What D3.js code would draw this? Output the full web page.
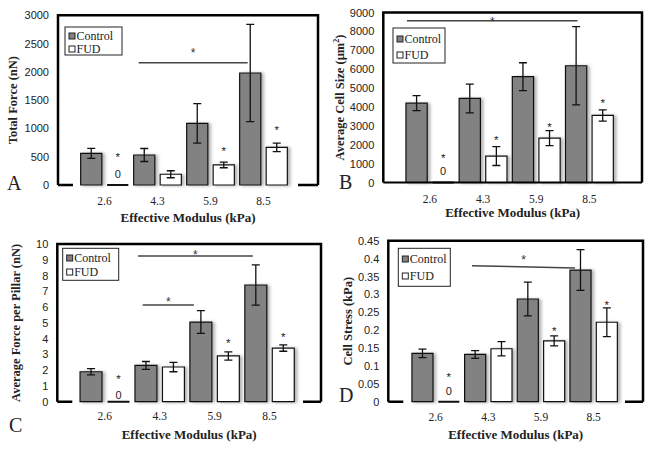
<!DOCTYPE html>
<html><head><meta charset="utf-8">
<script src="https://cdn.jsdelivr.net/npm/d3@7"></script>
<style>body{margin:0;background:#fff} svg{display:block}</style>
</head><body><svg id="c" width="649" height="451"></svg>
<script>
const categories = ["2.6", "4.3", "5.9", "8.5"];
const seriesNames = ["Control", "FUD"];

// A: Total Force (nN)
const forceControl = [560, 530, 1090, 1980];
const forceControlErr = [88, 115, 350, 860];
const forceFUD = [0, 190, 355, 665];
const forceFUDErr = [0, 62, 50, 75];
const forceTicks = [0, 500, 1000, 1500, 2000, 2500, 3000];

// B: Average Cell Size (µm²)
const sizeControl = [4200, 4450, 5600, 6180];
const sizeControlErr = [400, 760, 740, 2070];
const sizeFUD = [0, 1400, 2350, 3550];
const sizeFUDErr = [0, 500, 400, 300];
const sizeTicks = [0, 1000, 2000, 3000, 4000, 5000, 6000, 7000, 8000, 9000];

// C: Average Force per Pillar (nN)
const pillarControl = [1.9, 2.3, 5.05, 7.4];
const pillarControlErr = [0.2, 0.25, 0.72, 1.27];
const pillarFUD = [0, 2.2, 2.9, 3.4];
const pillarFUDErr = [0, 0.3, 0.26, 0.2];
const pillarTicks = [0, 1, 2, 3, 4, 5, 6, 7, 8, 9, 10];

// D: Cell Stress (kPa)
const stressControl = [0.135, 0.132, 0.287, 0.368];
const stressControlErr = [0.012, 0.011, 0.047, 0.057];
const stressFUD = [0, 0.148, 0.17, 0.222];
const stressFUDErr = [0, 0.02, 0.014, 0.04];
const stressTicks = [0, 0.05, 0.1, 0.15, 0.2, 0.25, 0.3, 0.35, 0.4, 0.45];

// significance star heights above FUD bars (value units), null = none
const forceStars = [540, null, 648, 1025];
const sizeStars = [1450, 2370, 3097, 4367];
const pillarStars = [1.62, null, 3.85, 4.27];
const stressStars = [0.077, null, 0.205, 0.278];
// "0" label heights for the zero FUD bar
const zeroLabels = [200, 590, 0.4, 0.03];

const SERIF = "'Liberation Serif','Times New Roman',serif";
const SANS = "'Liberation Sans',Arial,sans-serif";

const svg = d3.select("#c");
const defs = svg.append("defs");
const flt = defs.append("filter").attr("id", "sh").attr("x", "-30%").attr("y", "-10%").attr("width", "170%").attr("height", "130%");
flt.append("feDropShadow").attr("dx", 2.5).attr("dy", 0.5).attr("stdDeviation", 1.4)
  .attr("flood-color", "#000").attr("flood-opacity", 0.3);

function panel(c) {
  const g = svg.append("g");
  const y = d3.scaleLinear().domain([0, c.yMax]).range([c.bottom, c.top]);
  const x0 = d3.scaleBand().domain(categories).range([c.left + c.pad, c.right - c.padR]);
  const x1 = d3.scaleBand().domain(seriesNames).range([0, x0.bandwidth()]).paddingInner(0.2).paddingOuter(0.1);

  // y axis labels
  const ya = g.append("g").attr("transform", `translate(${c.left},0)`)
    .call(d3.axisLeft(y).tickValues(c.ticks).tickSize(0).tickPadding(9)
      .tickFormat(d => d === 0 ? "0" : String(+d.toFixed(2))));
  ya.select(".domain").remove();
  ya.selectAll("text").attr("font-family", SANS).attr("font-size", 11).attr("fill", "#222");

  // x axis labels
  const xa = g.append("g").attr("transform", `translate(0,${c.xTickY})`)
    .call(d3.axisBottom(x0).tickSize(0).tickPadding(0));
  xa.select(".domain").remove();
  xa.selectAll("text").attr("font-family", SERIF).attr("font-size", 11.5).attr("fill", "#222").attr("dy", "0");

  const rows = [];
  categories.forEach((cat, i) => {
    rows.push({cat, s: "Control", v: c.ctrl[i], e: c.ctrlErr[i]});
    rows.push({cat, s: "FUD", v: c.fud[i], e: c.fudErr[i]});
  });
  const bx = d => x0(d.cat) + x1(d.s);
  const bw = x1.bandwidth();

  // bars as paths (so zero bars still show as a line)
  g.append("g").selectAll("path").data(rows).join("path")
    .attr("d", d => `M${bx(d)},${y(0)}V${y(d.v)}H${bx(d) + bw}V${y(0)}Z`)
    .attr("fill", d => d.s === "Control" ? "#828282" : "#fff")
    .attr("stroke", "#111").attr("stroke-width", d => d.v === 0 ? 2 : 1.2)
    .attr("filter", d => d.v === 0 ? null : "url(#sh)");

  // error bars
  const eb = g.append("g").attr("stroke", "#111").attr("stroke-width", 1.3).attr("fill", "none");
  rows.filter(d => d.e > 0).forEach(d => {
    const cx = bx(d) + bw / 2;
    eb.append("path").attr("d",
      `M${cx},${y(d.v + d.e)}V${y(d.v - d.e)}M${cx - 4},${y(d.v + d.e)}h8M${cx - 4},${y(d.v - d.e)}h8`);
  });

  // box
  g.append("path").attr("d", `M${c.left},${c.bottom}V${c.top}H${c.right}V${c.bottom}`)
    .attr("fill", "none").attr("stroke", "#000").attr("stroke-width", 2.5);
  if (c.fullBottom) {
    g.append("line").attr("x1", c.left).attr("x2", c.right).attr("y1", c.bottom).attr("y2", c.bottom)
      .attr("stroke", "#000").attr("stroke-width", 2.2);
  } else {
    g.append("path").attr("d", `M${c.left},${c.bottom}h15M${c.right},${c.bottom}h-${c.segR}`)
      .attr("stroke", "#000").attr("stroke-width", 2.5);
  }

  // stars above FUD bars
  c.stars.forEach((sv, i) => {
    if (sv == null) return;
    const d = {cat: categories[i], s: "FUD"};
    g.append("text").attr("x", bx(d) + bw / 2).attr("y", y(sv) + 6.5)
      .attr("text-anchor", "middle").attr("font-family", SANS).attr("font-size", 11.5).attr("fill", "#222").text("*");
  });
  // zero label
  {
    const d = {cat: categories[0], s: "FUD"};
    g.append("text").attr("x", bx(d) + bw / 2).attr("y", y(c.zero) + 4)
      .attr("text-anchor", "middle").attr("font-family", SANS).attr("font-size", 11).attr("fill", "#222").text("0");
  }

  // significance lines
  c.sigs.forEach(s => {
    const xa1 = x0(s.c1) + x1("Control") + s.o1;
    const xa2 = x0(s.c2) + x1("Control") + s.o2;
    g.append("line").attr("x1", xa1).attr("x2", xa2).attr("y1", y(s.y1)).attr("y2", y(s.y2))
      .attr("stroke", "#444").attr("stroke-width", 1.5);
    g.append("text").attr("x", (xa1 + xa2) / 2).attr("y", y(s.sy) + 7)
      .attr("text-anchor", "middle").attr("font-family", SANS).attr("font-size", 12).attr("fill", "#333").text("*");
  });

  // legend
  const L = c.lg;
  g.append("rect").attr("x", L.x).attr("y", L.y).attr("width", L.w).attr("height", L.h)
    .attr("fill", "#fff").attr("stroke", "#222").attr("stroke-width", 1);
  seriesNames.forEach((s, i) => {
    g.append("rect").attr("x", L.x + 4).attr("y", L.rows[i] - 7).attr("width", 6).attr("height", 6)
      .attr("fill", s === "Control" ? "#828282" : "#fff").attr("stroke", "#222").attr("stroke-width", 1);
    g.append("text").attr("x", L.x + 11.5).attr("y", L.rows[i]).attr("font-family", SERIF)
      .attr("font-size", 12).attr("fill", "#222").text(s);
  });

  // titles
  g.append("text").attr("x", (c.left + c.right) / 2).attr("y", c.xTitleY).attr("text-anchor", "middle")
    .attr("font-family", SERIF).attr("font-weight", "bold").attr("font-size", 13).attr("fill", "#222")
    .text("Effective Modulus (kPa)");
  const yt = g.append("text").attr("transform", `translate(${c.yTitleX},${(c.top + c.bottom) / 2}) rotate(-90)`)
    .attr("text-anchor", "middle").attr("font-family", SERIF).attr("font-weight", "bold")
    .attr("font-size", 12.5).attr("fill", "#222");
  if (c.sup) {
    yt.append("tspan").text(c.yTitle);
    yt.append("tspan").attr("font-size", 8).attr("dy", -5).text(c.sup);
    yt.append("tspan").attr("dy", 5).text(")");
  } else yt.text(c.yTitle);
  g.append("text").attr("x", c.letter[1]).attr("y", c.letter[2]).attr("font-family", SERIF)
    .attr("font-size", 20).attr("fill", "#222").text(c.letter[0]);
}

panel({left: 58, right: 318, top: 15.3, bottom: 185, pad: 20, padR: 28, segR: 20, yMax: 3000, ticks: forceTicks,
  ctrl: forceControl, ctrlErr: forceControlErr, fud: forceFUD, fudErr: forceFUDErr,
  stars: forceStars, zero: zeroLabels[0], xTickY: 205, xTitleY: 222, yTitleX: 17,
  yTitle: "Total Force (nN)", letter: ["A", 7, 190],
  sigs: [{c1: "4.3", o1: 5, c2: "8.5", o2: 8, y1: 2160, y2: 2160, sy: 2385}],
  lg: {x: 65, y: 27, w: 57, h: 28, rows: [40, 53]}});

panel({left: 383.3, right: 642, top: 12.5, bottom: 182.5, pad: 20, padR: 26, yMax: 9000, ticks: sizeTicks,
  ctrl: sizeControl, ctrlErr: sizeControlErr, fud: sizeFUD, fudErr: sizeFUDErr,
  stars: sizeStars, zero: zeroLabels[1], xTickY: 203, xTitleY: 217, yTitleX: 344,
  yTitle: "Average Cell Size (µm", sup: "2", letter: ["B", 339, 189], fullBottom: true,
  sigs: [{c1: "2.6", o1: 1, c2: "8.5", o2: 12, y1: 8565, y2: 8565, sy: 8640}],
  lg: {x: 393, y: 28, w: 52, h: 35, rows: [43, 59]}});

panel({left: 57.3, right: 321, top: 244, bottom: 401.7, pad: 20, padR: 24, segR: 18, yMax: 10, ticks: pillarTicks,
  ctrl: pillarControl, ctrlErr: pillarControlErr, fud: pillarFUD, fudErr: pillarFUDErr,
  stars: pillarStars, zero: zeroLabels[2], xTickY: 420, xTitleY: 439, yTitleX: 20,
  yTitle: "Average Force per Pillar (nN)", letter: ["C", 9, 432],
  sigs: [{c1: "4.3", o1: 3, c2: "8.5", o2: 8, y1: 9.24, y2: 9.24, sy: 9.51},
         {c1: "4.3", o1: 7.7, c2: "5.9", o2: 4, y1: 6.13, y2: 6.13, sy: 6.51}],
  lg: {x: 62.7, y: 248.3, w: 56, h: 32, rows: [262, 276]}});

panel({left: 388.3, right: 643, top: 240.7, bottom: 401.7, pad: 21, padR: 23, segR: 18, yMax: 0.45, ticks: stressTicks,
  ctrl: stressControl, ctrlErr: stressControlErr, fud: stressFUD, fudErr: stressFUDErr,
  stars: stressStars, zero: zeroLabels[3], xTickY: 421, xTitleY: 439, yTitleX: 352,
  yTitle: "Cell Stress (kPa)", letter: ["D", 339, 402],
  sigs: [{c1: "4.3", o1: 7.4, c2: "8.5", o2: 5, y1: 0.380, y2: 0.374, sy: 0.405}],
  lg: {x: 398.3, y: 248.3, w: 52, h: 38, rows: [263, 280]}});
</script>
</body></html>
